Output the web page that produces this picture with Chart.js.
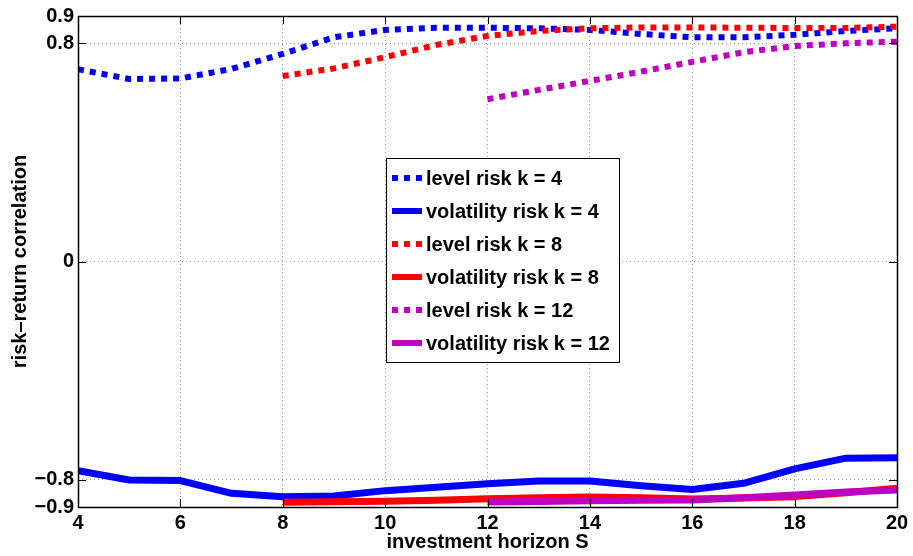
<!DOCTYPE html>
<html>
<head>
<meta charset="utf-8">
<script src="https://cdn.jsdelivr.net/npm/chart.js@4.4.1/dist/chart.umd.min.js"></script>
<style>
  html, body { margin: 0; padding: 0; background: #fff; }
  #wrap { width: 913px; height: 556px; position: relative; }
</style>
</head>
<body>
<div id="wrap"><canvas id="c"></canvas></div>
<script>
// investment horizons S
const horizons = [4, 5, 6, 7, 8, 9, 10, 11, 12, 13, 14, 15, 16, 17, 18, 19, 20];

// risk-return correlations per horizon (null = not defined for that k)
const levelK4 = [0.705, 0.669, 0.671, 0.706, 0.761, 0.822, 0.849, 0.857, 0.857, 0.855, 0.849, 0.834, 0.822, 0.822, 0.831, 0.845, 0.855];
const volK4   = [-0.767, -0.801, -0.803, -0.850, -0.862, -0.860, -0.840, -0.828, -0.815, -0.805, -0.805, -0.822, -0.836, -0.813, -0.760, -0.721, -0.719];
const levelK8 = [null, null, null, null, 0.680, 0.708, 0.749, 0.794, 0.827, 0.845, 0.855, 0.858, 0.858, 0.857, 0.856, 0.856, 0.861];
const volK8   = [null, null, null, null, -0.883, -0.881, -0.879, -0.875, -0.870, -0.866, -0.863, -0.866, -0.871, -0.867, -0.862, -0.848, -0.831];
const levelK12 = [null, null, null, null, null, null, null, null, 0.595, 0.629, 0.662, 0.696, 0.732, 0.767, 0.790, 0.800, 0.806];
const volK12   = [null, null, null, null, null, null, null, null, -0.882, -0.880, -0.877, -0.875, -0.874, -0.866, -0.856, -0.845, -0.838];

const seriesLabels = [
  'level risk k = 4', 'volatility risk k = 4',
  'level risk k = 8', 'volatility risk k = 8',
  'level risk k = 12', 'volatility risk k = 12'
];

// axis ticks
const xTicks = [4, 6, 8, 10, 12, 14, 16, 18, 20];
const yTicks = [-0.9, -0.8, 0, 0.8, 0.9];
const yTickLabels = ['\u22120.9', '\u22120.8', '0', '0.8', '0.9'];

const BLUE = '#0000ff', RED = '#ff0000', MAGENTA = '#bf00bf';
const FONT = "'Liberation Sans', Arial, Helvetica, sans-serif";

function pts(values) {
  return values.map((v, i) => ({ x: horizons[i], y: v })).filter(p => p.y !== null);
}

const styles = [
  { color: BLUE, dotted: true },
  { color: BLUE, dotted: false },
  { color: RED, dotted: true },
  { color: RED, dotted: false },
  { color: MAGENTA, dotted: true },
  { color: MAGENTA, dotted: false }
];
const seriesData = [levelK4, volK4, levelK8, volK8, levelK12, volK12];

const datasets = seriesData.map((vals, i) => ({
  label: seriesLabels[i],
  data: pts(vals),
  borderColor: styles[i].color,
  backgroundColor: styles[i].color,
  borderWidth: styles[i].dotted ? 6 : 7,
  borderDash: styles[i].dotted ? [6, 6] : [],
  borderCapStyle: 'butt',
  borderJoinStyle: 'round',
  pointRadius: 0,
  tension: 0,
  fill: false,
  order: seriesData.length - 1 - i   // later series drawn on top
}));

// full axes box with inward tick marks on all four sides
const boxPlugin = {
  id: 'axesBox',
  afterDatasetsDraw(chart) {
    const { ctx, chartArea: a, scales } = chart;
    ctx.save();
    ctx.strokeStyle = '#000';
    ctx.lineWidth = 1;
    const tl = 8;
    ctx.beginPath();
    xTicks.forEach(v => {
      const x = Math.round(scales.x.getPixelForValue(v)) + 0.5;
      ctx.moveTo(x, a.bottom); ctx.lineTo(x, a.bottom - tl);
      ctx.moveTo(x, a.top); ctx.lineTo(x, a.top + tl);
    });
    yTicks.forEach(v => {
      const y = Math.round(scales.y.getPixelForValue(v)) + 0.5;
      ctx.moveTo(a.left, y); ctx.lineTo(a.left + tl, y);
      ctx.moveTo(a.right, y); ctx.lineTo(a.right - tl, y);
    });
    ctx.stroke();
    ctx.lineWidth = 1.5;
    ctx.strokeRect(Math.round(a.left) + 0.5, Math.round(a.top) + 0.5,
                   Math.round(a.right - a.left), Math.round(a.bottom - a.top));
    ctx.restore();
  }
};

// boxed legend inside the plot area
const legendPlugin = {
  id: 'boxLegend',
  afterDraw(chart) {
    const { ctx, chartArea: a } = chart;
    const bx = a.left + 308, by = a.top + 142, bw = 233, bh = 204;
    ctx.save();
    ctx.fillStyle = '#fff';
    ctx.fillRect(bx, by, bw, bh);
    ctx.strokeStyle = '#000';
    ctx.lineWidth = 1;
    ctx.strokeRect(bx + 0.5, by + 0.5, bw, bh);
    ctx.font = 'bold 20px ' + FONT;
    ctx.textBaseline = 'middle';
    ctx.textAlign = 'left';
    chart.data.datasets.forEach((ds, i) => {
      const y = by + 20 + i * 33;
      ctx.beginPath();
      ctx.strokeStyle = ds.borderColor;
      ctx.lineWidth = 6;
      ctx.lineCap = 'butt';
      ctx.setLineDash(ds.borderDash.length ? [6, 6] : []);
      ctx.moveTo(bx + 6, y);
      ctx.lineTo(bx + 36, y);
      ctx.stroke();
      ctx.setLineDash([]);
      ctx.fillStyle = '#000';
      ctx.fillText(ds.label, bx + 40, y + 1);
    });
    ctx.restore();
  }
};

const gridDash = { color: '#999', lineWidth: 1, drawTicks: false };

new Chart(document.getElementById('c'), {
  type: 'line',
  data: { datasets },
  plugins: [boxPlugin, legendPlugin],
  options: {
    responsive: true,
    maintainAspectRatio: false,
    animation: false,
    devicePixelRatio: 1,
    layout: { padding: { top: 16, right: 16, left: 0, bottom: 0 } },
    plugins: { legend: { display: false }, tooltip: { enabled: false } },
    scales: {
      x: {
        type: 'linear',
        min: 4, max: 20,
        afterBuildTicks(scale) { scale.ticks = xTicks.map(v => ({ value: v })); },
        afterFit(scale) { scale.height = 49; },
        grid: gridDash,
        border: { display: false, dash: [1, 3] },
        ticks: {
          padding: 4,
          autoSkip: false,
          maxRotation: 0,
          color: '#000',
          font: { family: FONT, size: 20, weight: 'bold' },
          callback: v => String(v)
        },
        title: {
          display: true,
          text: 'investment horizon S',
          color: '#000',
          padding: { top: 0, bottom: 2 },
          font: { family: FONT, size: 20, weight: 'bold' }
        }
      },
      y: {
        type: 'linear',
        min: -0.9, max: 0.9,
        afterBuildTicks(scale) { scale.ticks = yTicks.map(v => ({ value: v })); },
        afterFit(scale) { scale.width = 78; },
        grid: gridDash,
        border: { display: false, dash: [1, 3] },
        ticks: {
          padding: 4,
          autoSkip: false,
          color: '#000',
          font: { family: FONT, size: 20, weight: 'bold' },
          callback: v => {
            const k = yTicks.findIndex(t => Math.abs(t - v) < 1e-9);
            return k >= 0 ? yTickLabels[k] : '';
          }
        },
        title: {
          display: true,
          text: 'risk\u2013return correlation',
          color: '#000',
          padding: { top: 8, bottom: 0 },
          font: { family: FONT, size: 20, weight: 'bold' }
        }
      }
    }
  }
});
</script>
</body>
</html>
